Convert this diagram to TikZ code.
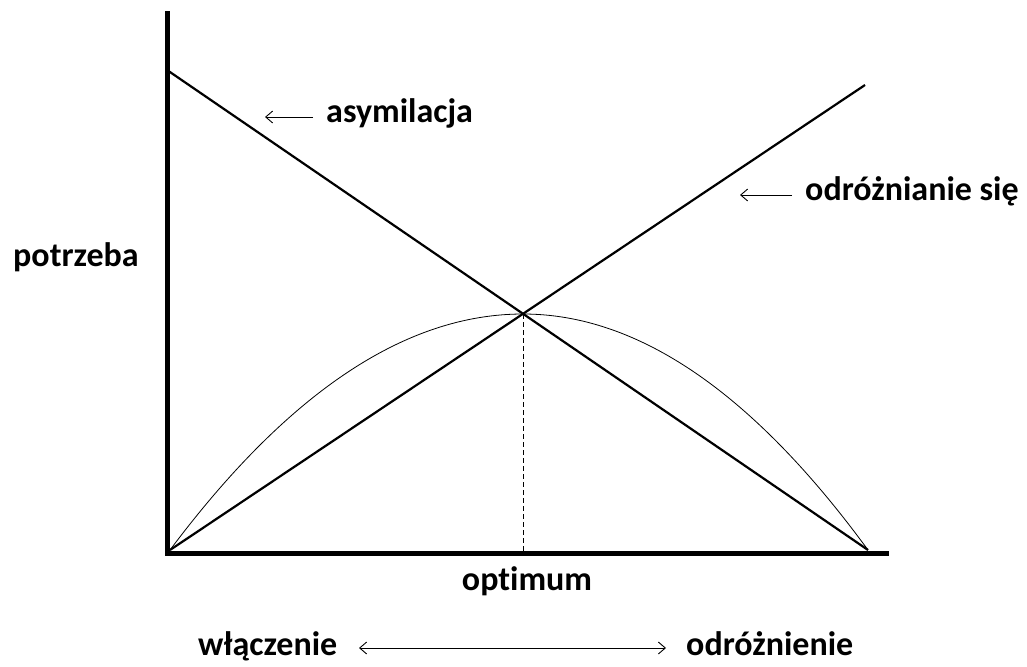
\documentclass[tikz,border=0pt]{standalone}
\usepackage{fontspec}
\setmainfont{Carlito}[Ligatures=NoCommon]
\usetikzlibrary{arrows.meta}
\begin{document}
\begin{tikzpicture}[x=1pt,y=-1pt,
  lbl/.style={font=\fontsize{34}{40}\selectfont\bfseries, inner sep=0pt},
  axis/.style={line width=5pt},
  mainline/.style={line width=2.2pt},
  thin/.style={line width=0.8pt},
  ptr/.style={line width=0.9pt, -{Straight Barb[length=7pt,width=12pt]}},
  dbl/.style={line width=0.9pt, {Straight Barb[length=7pt,width=12pt]}-{Straight Barb[length=7pt,width=12pt]}}]
\useasboundingbox (0,0) rectangle (1027,666);
\fill[white] (0,0) rectangle (1027,666);
% axes
\coordinate (ytop) at (167,14);
\coordinate (origin) at (167,553);
\coordinate (xend) at (889,553);
\draw[axis, line cap=rect] (origin) -- (ytop);
\draw[axis] (origin) -- (xend);
% points
\coordinate (A0) at (167,70);
\coordinate (A1) at (868,550);
\coordinate (B0) at (170,550);
\coordinate (B1) at (865,85);
\coordinate (P) at (523,314);
\coordinate (Pb) at (523,551);
% lines
\draw[mainline] (A0) -- (A1);
\draw[mainline] (B0) -- (B1);
% curve
\draw[thin] (B0) .. controls (287.7,392.7) and (405.3,314) .. (P)
  .. controls (638,314) and (753,392.7) .. (A1);
% dashed
\draw[thin, dash pattern=on 5pt off 3pt] (P) -- (Pb);
% labels
\node[lbl, anchor=base west] (asym) at (326,123) {asymilacja};
\coordinate (asymtail) at (313,117);
\coordinate (asymtip) at (265,117);
\draw[ptr] (asymtail) -- (asymtip);
\node[lbl, anchor=base west] (odrs) at (805,200) {odróżnianie się};
\coordinate (odrstail) at (792,195);
\coordinate (odrstip) at (740,195);
\draw[ptr] (odrstail) -- (odrstip);
\node[lbl, anchor=base west] (potrz) at (13,266) {potrzeba};
\node[lbl, anchor=base] (opt) at (527,590) {optimum};
\node[lbl, anchor=base west] (wlacz) at (198,655) {włączenie};
\node[lbl, anchor=base west] (odrn) at (686,655) {odróżnienie};
\coordinate (bl) at (359,648);
\coordinate (br) at (666,648);
\draw[dbl] (bl) -- (br);
\end{tikzpicture}
\end{document}
